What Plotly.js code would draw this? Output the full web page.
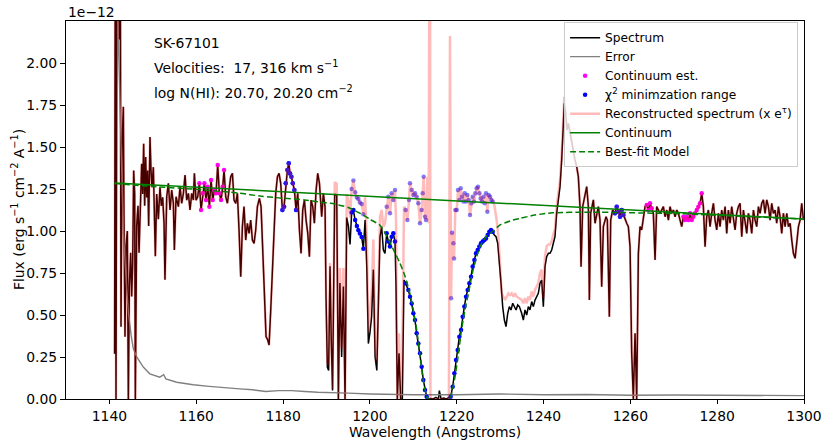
<!DOCTYPE html>
<html>
<head>
<meta charset="utf-8">
<script src="https://cdn.plot.ly/plotly-3.0.1.min.js"></script>
<style>html,body{margin:0;padding:0;background:#fff;}#chart{width:830px;height:443px;}</style>
</head>
<body>
<div id="chart"></div>
<script>
// ---------- data (flux in units of 1e-12) ----------
const specWave = [
1141.2,1141.36,1141.52,1141.75,1142.05,1142.28,1142.51,1142.67,1142.9,1143.21,1143.36,1143.59,1143.82,1144.13,1144.36,1144.59,1144.9,1145.13,1145.36,1145.59,1145.82,1145.97,1146.28,1146.59,1146.82,1147.12,1147.43,1147.66,1147.89,1148.12,1148.35,1148.58,1148.81,1149.04,1149.35,1149.58,1149.81,1150.12,1150.35,1150.58,1150.89,1151.27,1151.65,1151.96,1152.27,1152.58,1152.8,
1153.2,1153.58,1153.97,1154.35,1154.73,1154.96,1155.35,1155.89,1156.27,1156.65,1157.04,1157.42,1157.81,1158.19,1158.57,1158.96,1159.34,1159.57,1159.96,1160.34,1160.72,1161.11,1161.49,1161.88,1162.26,1162.64,1163.03,1163.41,1163.8,1164.18,1164.56,1164.95,1165.33,1165.72,1166.1,1166.41,1166.79,1167.18,1167.56,1167.94,1168.33,1168.71,1169.1,1169.48,1169.86,1170.25,1170.63,1171.01,1171.4,1171.78,1172.17,1172.55,1172.94,1173.32,1173.7,1174.09,1174.55,1174.93,1175.32,1175.7,1176.08,1176.47,1176.78,1177.16,1177.54,1177.93,1178.31,1178.7,1179.08,1179.46,1179.85,1180.23,1180.62,1181.0,1181.31,1181.61,1181.92,1182.23,1182.61,1183.0,1183.38,1183.77,1184.15,1184.53,1184.92,1185.3,1185.69,1186.07,1186.45,1186.84,1187.22,1187.61,1187.99,1188.38,
1188.9,1189.28,1189.67,1189.9,1190.2,1190.5,1190.82,1191.1,1191.4,1191.9,1192.36,1192.74,1193.1,1193.5,1193.9,1194.28,1194.66,1195.05,1195.43,1195.8,1196.2,1196.6,1197.0,1197.35,1197.7,1198.1,1198.5,1198.9,1199.3,1199.65,1200.0,1200.4,1200.8,1201.2,1201.6,1201.95,
1202.33,1202.71,1203.1,1203.48,1203.87,1204.25,1204.63,1205.02,1205.4,1205.79,1206.02,1206.32,1206.71,1207.09,1207.48,1207.86,1208.24,1208.86,1209.24,1209.63,1210.01,1210.39,1210.78,1211.16,1211.55,1211.93,1212.31,1212.7,1213.08,1213.47,1214.0,1214.6,1215.2,1215.8,1216.0,1216.4,1217.0,1217.6,1218.2,1218.61,1219.07,1219.46,1219.84,1220.23,1220.61,1221.0,1221.38,1221.76,1222.15,1222.53,1222.91,1223.3,1223.68,1224.07,1224.45,1224.83,1225.22,1225.6,1225.99,1226.37,1226.75,1227.14,1227.52,1227.91,1228.29,1228.67,1229.06,1229.44,1229.83,1230.21,1230.59,1230.98,1231.36,1231.75,1232.13,1232.51,1232.9,1233.28,1233.67,1234.05,1234.44,
1234.96,1235.35,1235.73,1236.12,1236.5,1236.88,1237.27,1237.65,1238.04,1238.42,1238.8,1239.19,1239.57,1239.96,1240.34,1240.72,1241.11,1241.49,1241.88,1242.26,1242.64,1243.03,1243.41,1243.8,1244.18,1244.56,1244.79,1245.1,1245.41,1245.72,1246.1,1246.48,1246.87,1247.25,1247.64,1248.02,1248.4,1248.64,1249.02,1249.56,1249.94,1250.33,1250.56,1250.86,1251.48,1251.86,1252.25,1252.63,1253.01,1253.4,1253.78,1254.4,1254.7,1255.16,1255.47,1255.93,1256.47,1256.85,1257.24,1257.62,1258.01,1258.39,1258.77,1259.16,1259.54,1259.93,1260.31,1260.69,1261.08,1261.46,1261.85,1262.23,1262.61,1263.0,1263.38,1263.77,1264.15,1264.53,1264.92,1265.3,1265.69,1266.07,1266.46,
1266.84,1267.61,1267.99,1268.38,1268.76,1269.14,1269.53,1269.91,1270.3,1270.68,1271.06,1271.45,1271.83,1272.22,1272.6,1272.98,1273.37,1273.75,1274.14,1274.52,1274.9,1275.29,1275.67,1276.06,1276.44,1276.82,1277.21,1277.59,1277.98,1278.36,1278.74,1279.13,1279.51,1279.9,1280.28,1280.66,1281.05,1281.43,1281.82,1282.2,1282.58,1282.97,1283.35,1283.74,1284.12,1284.5,1284.89,1285.27,1285.66,1286.04,1286.42,1286.81,1287.19,1287.58,1287.96,1288.35,1288.73,1289.11,1289.5,1289.88,1290.27,1290.65,1291.03,1291.42,1291.8,1292.19,1292.57,1292.95,1293.34,1293.72,1294.11,1294.49,1294.87,1295.26,1295.64,1296.03,1296.41,1296.8,1297.18,1297.56,1297.95,1298.33,1298.72,1299.1,1299.48,1299.87
];
const specFlux = [
0.27,3.0,0.0,2.8,2.5,2.14,2.6,0.43,1.5,1.74,1.07,0.37,0.91,1.0,0.0,0.67,0.87,0.61,0.81,1.36,1.22,0.0,1.03,1.15,0.87,1.12,1.40,1.22,1.52,1.15,1.44,1.20,1.36,1.03,1.56,1.36,1.26,1.38,1.15,0.85,1.22,1.07,1.26,1.15,1.20,1.05,0.71,
1.204,1.284,1.125,1.244,1.165,0.887,1.204,1.145,1.264,1.165,1.224,1.333,1.184,1.224,1.125,1.224,1.184,1.343,1.184,1.204,1.284,1.125,1.224,1.284,1.184,1.264,1.145,1.303,1.184,1.244,1.224,1.393,1.224,1.184,1.264,1.363,1.204,1.165,1.244,1.323,1.343,1.184,1.165,1.224,1.006,0.728,1.026,1.145,0.946,1.046,0.986,1.065,0.946,0.926,1.006,1.145,1.194,1.145,0.887,0.589,0.371,0.351,0.321,0.530,0.788,0.986,1.224,1.323,1.343,1.284,1.125,1.145,1.284,1.363,1.403,1.343,1.323,1.284,1.244,1.125,1.224,1.006,0.867,1.125,1.184,1.065,0.986,0.847,1.184,1.145,1.046,1.244,1.343,1.284,
1.085,1.224,1.145,0.60,0.19,0.17,0.79,0.35,0.05,1.22,1.21,0.0,0.69,0.25,0.67,0.0,1.08,1.03,0.92,1.11,1.125,1.065,1.03,1.005,0.985,0.965,0.895,1.065,0.77,0.33,0.39,0.49,0.77,0.25,0.17,0.57,
0.966,1.026,0.887,0.867,0.986,0.937,0.907,0.966,0.986,0.937,0.669,0.0,0.272,0.0,0.0,0.708,0.689,0.649,0.609,0.569,0.510,0.470,0.391,0.331,0.272,0.192,0.113,0.054,0.014,0.0,0.003,0.0,0.01,0.0,0.05,0.0,0.005,0.0,0.01,0.014,0.073,0.153,0.232,0.292,0.371,0.411,0.490,0.550,0.609,0.649,0.689,0.728,0.788,0.827,0.867,0.887,0.907,0.927,0.937,0.946,0.956,0.976,0.996,1.006,0.996,0.976,0.966,0.927,0.827,0.689,0.550,0.470,0.431,0.510,0.550,0.530,0.570,0.550,0.530,0.560,0.550,
0.510,0.470,0.530,0.500,0.550,0.530,0.580,0.550,0.589,0.609,0.629,0.689,0.708,0.550,0.788,0.847,0.867,0.867,0.887,0.927,0.966,1.105,1.185,1.264,1.423,1.66,1.76,1.70,1.601,1.641,1.581,1.542,1.462,1.423,1.383,1.323,1.145,0.788,1.145,1.224,1.264,1.145,0.589,1.105,1.185,1.046,1.105,1.145,1.065,0.669,1.026,1.085,1.065,0.490,1.065,1.125,1.105,1.145,1.115,1.085,1.125,1.095,1.065,1.046,1.026,0.907,0.272,0.0,0.391,0.0,0.867,1.026,1.006,1.065,1.145,1.155,1.125,1.165,1.135,1.105,0.827,1.145,1.125,
1.105,1.145,1.085,1.125,1.065,1.145,1.105,1.125,1.085,1.125,1.105,1.065,1.026,1.085,1.065,1.085,1.065,1.105,1.065,1.085,1.105,1.125,1.145,1.165,1.224,1.145,0.907,1.085,1.125,1.026,1.105,1.165,1.065,1.006,1.105,1.026,1.125,1.065,1.145,0.986,1.125,1.046,1.145,1.065,1.006,1.105,1.145,1.165,0.966,1.125,1.065,0.986,1.105,1.065,0.986,1.125,1.065,1.026,1.145,1.105,1.165,1.185,1.105,1.185,1.145,1.065,1.165,1.105,1.125,1.046,1.145,1.085,0.986,1.105,1.026,1.105,1.026,1.046,0.946,0.867,0.837,0.946,1.026,1.065,1.165,1.065
];

// reconstructed spectrum (x e^tau) where it differs from the observed spectrum
const reconWave = [
1189.9,1190.2,1190.5,1190.82,1191.1,1191.4,1191.9,1192.36,1192.74,1193.1,1193.5,1193.9,1194.28,1194.66,1195.05,1195.43,1195.8,1196.2,1196.6,1197.0,1197.35,1197.7,1198.1,1198.5,1198.9,1199.3,1199.65,1200.0,1200.4,1200.8,1201.2,1201.6,1201.95,
1202.33,1202.71,1203.1,1203.48,1203.87,1204.25,1204.63,1205.02,1205.4,1205.79,1206.02,1206.32,1206.71,1207.09,1207.48,1207.86,1208.24,1208.63,1209.01,1209.24,1209.63,1210.01,1210.39,1210.78,1211.16,1211.55,1211.93,1212.16,1212.39,1212.7,1212.93,1213.24,1213.54,1213.72,1213.85,1213.95,1214.6,1215.5,1216.5,1217.5,1218.2,1218.45,1218.7,1218.92,1219.23,1219.38,1219.69,1220.0,1220.3,1220.61,1220.92,1221.22,1221.53,1221.84,1222.15,1222.45,1222.76,1223.07,1223.37,1223.68,1223.99,1224.3,1224.6,1224.91,1225.22,1225.52,1225.83,1226.14,1226.45,1226.75,1227.06,1227.37,1227.68,1227.98,1228.29,1228.6,1228.9,1229.21,1229.6,1229.98,1230.36,1230.75,1231.13,1231.52,1231.9,1232.28,1232.67,1233.05,1233.44,1233.82,1234.44,
1234.96,1235.35,1235.73,1236.12,1236.5,1236.88,1237.27,1237.65,1238.04,1238.42,1238.8,1239.19,1239.57,1239.96,1240.34,1240.72,1241.11,1241.49,1241.88,1242.26,1242.64,1243.03,1243.41,1243.8,1244.18,1244.56,1244.79
];
const reconFlux = [
0.62,0.22,0.20,0.81,0.38,0.06,1.29,1.28,0.0,0.78,0.30,0.78,0.0,1.22,1.18,1.08,1.25,1.30,1.23,1.20,1.19,1.17,1.16,1.10,1.20,0.95,0.40,0.50,0.62,0.95,0.32,0.22,0.75,
1.085,1.125,1.026,1.046,1.145,1.204,1.105,1.224,1.184,1.244,1.065,0.0,0.391,0.0,0.27,1.145,1.125,1.065,1.184,1.284,1.244,1.214,1.224,1.204,1.165,1.046,1.125,1.224,1.323,1.085,1.065,1.323,1.046,3.0,3.0,0.0,0.0,0.0,0.0,0.0,0.0,2.16,0.60,0.99,0.927,0.837,1.125,1.125,1.244,1.185,1.254,1.204,1.175,1.224,1.175,1.214,1.185,1.095,1.165,1.204,1.175,1.224,1.254,1.264,1.224,1.194,1.175,1.204,1.165,1.224,1.115,1.214,1.204,1.185,1.175,1.165,1.125,1.065,0.966,0.748,0.629,0.609,0.589,0.609,0.629,0.619,0.629,0.609,0.629,0.609,0.60,
0.59,0.57,0.60,0.57,0.61,0.59,0.64,0.61,0.65,0.67,0.69,0.75,0.77,0.60,0.85,0.91,0.92,0.92,0.94,0.98,1.01,1.15,1.23,1.30,1.46,1.70,1.80
];

const errWave = [1141.2,1142.3,1143.2,1144.0,1144.4,1145.0,1145.5,1146.3,1147.8,1149.3,1151.6,1152.5,1153.0,1155.5,1159.3,1163.0,1167.0,1170.0,1173.0,1176.0,1179.0,1182.0,1185.0,1188.0,1195.0,1200.0,1210.0,1220.0,1230.0,1240.0,1250.0,1260.0,1270.0,1280.0,1290.0,1300.0];
const errFlux = [3.0,1.8,1.0,0.65,0.51,0.38,0.30,0.25,0.19,0.15,0.13,0.145,0.12,0.10,0.085,0.075,0.064,0.06,0.055,0.045,0.05,0.05,0.045,0.04,0.035,0.03,0.025,0.025,0.03,0.025,0.027,0.022,0.024,0.022,0.021,0.02];

const contWave = [1141.2, 1300.0];
const contFlux = [1.286, 1.071];

const modelWave = [1141.2,1150,1160,1170,1175,1180,1185,1188.5,1191,1195,1198.5,1200,1202.3,1204,1205.4,1206.9,1208.1,1209.2,1210,1210.8,1211.5,1212.3,1213.1,1213.5,1218.5,1218.8,1219.6,1220.4,1221.1,1221.9,1222.7,1223.8,1225.4,1226.9,1228.4,1230,1233,1234.6,1238,1242,1250,1258,1265,1270,1300];
const modelFlux = [1.283,1.265,1.248,1.225,1.207,1.195,1.185,1.172,1.165,1.14,1.095,1.07,1.035,0.965,0.89,0.81,0.73,0.63,0.53,0.41,0.27,0.11,0.014,0.0,0.0,0.03,0.13,0.27,0.41,0.53,0.63,0.77,0.91,0.97,1.0,1.036,1.065,1.075,1.095,1.108,1.112,1.11,1.106,1.104,1.071];

const contEstRanges = [[1160.4,1166.7],[1263.7,1265.0],[1272.1,1276.5]];
const chiRanges = [[1179.8,1183.0],[1195.7,1198.6],[1203.8,1205.9],[1208.1,1213.2],[1218.6,1228.5],[1256.4,1258.5]];

const xTicks = [1140,1160,1180,1200,1220,1240,1260,1280,1300];
const yTicks = [0,0.25,0.5,0.75,1.0,1.25,1.5,1.75,2.0];

// ---------- build derived tables ----------
const inR = (w, rs) => rs.some(r => w >= r[0] && w <= r[1]);
const rLo = reconWave[0], rHi = reconWave[reconWave.length - 1];
let recon = [];
specWave.forEach((w, i) => { if (w < rLo || w > rHi) recon.push([w, specFlux[i]]); });
reconWave.forEach((w, i) => recon.push([w, reconFlux[i]]));
recon.sort((a, b) => a[0] - b[0]);
const recX = recon.map(p => p[0]), recY = recon.map(p => p[1]);

const pick = (xs, ys, rs) => {
  const ox = [], oy = [];
  xs.forEach((w, i) => { if (inR(w, rs)) { ox.push(w); oy.push(ys[i]); } });
  return [ox, oy];
};
const [ceX, ceY] = pick(specWave, specFlux, contEstRanges);
const [chX, chY] = pick(specWave, specFlux, chiRanges);
const [chRX, chRY] = pick(recX, recY, chiRanges);

const traces = [
  {x: specWave, y: specFlux, mode: 'lines', name: 'Spectrum', line: {color: 'black', width: 1.5}, legendrank: 1},
  {x: errWave, y: errFlux, mode: 'lines', name: 'Error', line: {color: '#808080', width: 1.4}, legendrank: 2},
  {x: ceX, y: ceY, mode: 'markers', name: 'Continuum est.', marker: {color: '#ff00ff', size: 4.5}, legendrank: 3},
  {x: chX, y: chY, mode: 'markers', name: 'χ<sup>2</sup> minimzation range', marker: {color: '#0000ff', size: 4.5}, legendrank: 4},
  {x: chRX, y: chRY, mode: 'markers', showlegend: false, hoverinfo: 'skip', marker: {color: 'rgba(40,40,255,0.6)', size: 4.5}},
  {x: recX, y: recY, mode: 'lines', name: 'Reconstructed spectrum (x e<sup>τ</sup>)', line: {color: 'rgba(255,0,0,0.27)', width: 2.5}, legendrank: 5},
  {x: contWave, y: contFlux, mode: 'lines', name: 'Continuum', line: {color: '#008000', width: 1.5}, legendrank: 6},
  {x: modelWave, y: modelFlux, mode: 'lines', name: 'Best-fit Model', line: {color: '#008000', width: 1.5, dash: '6px,3px', shape: 'spline', smoothing: 0.6}, legendrank: 7}
];

const F = 'DejaVu Sans';
const layout = {
  width: 830, height: 443,
  margin: {l: 66, r: 26, t: 21, b: 44},
  paper_bgcolor: 'white', plot_bgcolor: 'white',
  font: {family: F, size: 13.9, color: 'black'},
  showlegend: true,
  xaxis: {
    range: [1130, 1300], tickvals: xTicks, ticks: 'outside', ticklen: 4, tickwidth: 1, tickcolor: 'black',
    showline: true, mirror: true, linecolor: 'black', linewidth: 1, showgrid: false, zeroline: false,
    tickfont: {family: F, size: 13.9}
  },
  yaxis: {
    range: [0, 2.25], tickvals: yTicks, tickformat: '.2f', ticks: 'outside', ticklen: 5, tickwidth: 1, tickcolor: 'black',
    showline: true, mirror: true, linecolor: 'black', linewidth: 1, showgrid: false, zeroline: false,
    tickfont: {family: F, size: 13.9}
  },
  legend: {
    x: 0.992, y: 0.997, xanchor: 'right', yanchor: 'top',
    bgcolor: 'rgba(255,255,255,0.8)', bordercolor: '#cccccc', borderwidth: 1,
    font: {family: F, size: 12.2}, traceorder: 'normal'
  },
  annotations: [
    {xref: 'paper', yref: 'paper', x: 0.5, y: -0.0635, xanchor: 'center', yanchor: 'top', borderpad: 0, showarrow: false, text: 'Wavelength (Angstroms)', font: {family: F, size: 13.9}},
    {xref: 'paper', yref: 'paper', x: -0.065, y: 0.5, xanchor: 'center', yanchor: 'middle', textangle: -90, showarrow: false, text: 'Flux (erg s<sup>−1</sup> cm<sup>−2</sup> A<sup>−1</sup>)', font: {family: F, size: 13.9}},
    {xref: 'paper', yref: 'paper', x: 0, y: 1.024, xanchor: 'left', yanchor: 'middle', showarrow: false, text: '1e−12', font: {family: F, size: 13.9}},
    {xref: 'paper', yref: 'paper', x: 0.1165, y: 0.942, xanchor: 'left', yanchor: 'middle', showarrow: false, text: 'SK-67101', font: {family: F, size: 13.9}},
    {xref: 'paper', yref: 'paper', x: 0.1165, y: 0.878, xanchor: 'left', yanchor: 'middle', showarrow: false, text: 'Velocities:  17, 316 km s<sup>−1</sup>', font: {family: F, size: 13.9}},
    {xref: 'paper', yref: 'paper', x: 0.1165, y: 0.812, xanchor: 'left', yanchor: 'middle', showarrow: false, text: 'log N(HI): 20.70, 20.20 cm<sup>−2</sup>', font: {family: F, size: 13.9}}
  ]
};

Plotly.newPlot('chart', traces, layout, {displayModeBar: false, staticPlot: true});
</script>
</body>
</html>
